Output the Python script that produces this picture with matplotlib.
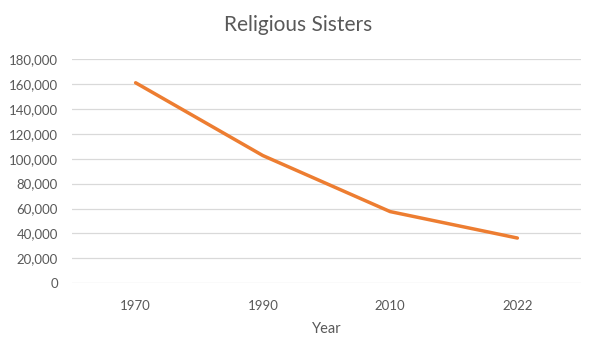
import matplotlib
matplotlib.use("Agg")
import matplotlib.pyplot as plt
from matplotlib.ticker import FuncFormatter, MultipleLocator

years = ["1970", "1990", "2010", "2022"]
sisters = [160931, 102504, 57544, 36322]

plt.rcParams['font.family'] = ['Lato', 'DejaVu Sans']
text_color = "#595959"

fig = plt.figure(figsize=(5.97, 3.56), dpi=100)
ax = fig.add_axes([72/597, 1-283.3/356, (581-72)/597, (283.3-59)/356])

x = list(range(len(years)))
ax.plot(x, sisters, color="#ED7D31", linewidth=2.5, solid_capstyle="round", solid_joinstyle="round")

ax.set_xlim(-0.5, len(years) - 0.5)
ax.set_ylim(0, 180000)
ax.yaxis.set_major_locator(MultipleLocator(20000))
ax.yaxis.set_major_formatter(FuncFormatter(lambda v, p: f"{int(v):,}"))
ax.set_xticks(x)
ax.set_xticklabels(years)

ax.grid(axis="y", color="#D9D9D9", linewidth=0.9)
ax.set_axisbelow(True)
for s in ax.spines.values():
    s.set_visible(False)
ax.tick_params(axis="both", length=0, colors=text_color, labelsize=9.5)
ax.tick_params(axis="y", pad=10)
ax.tick_params(axis="x", pad=12)

ax.set_xlabel("Year", color=text_color, fontsize=10.5, labelpad=7)
fig.text(0.5, 1-25/356, "Religious Sisters", ha="center", va="center", color=text_color, fontsize=15)

fig.savefig("out.png", dpi=100, facecolor="white")
